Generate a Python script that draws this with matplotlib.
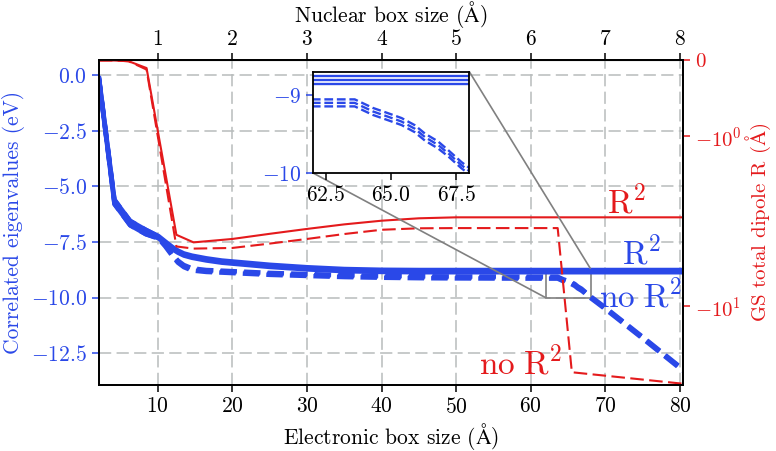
import matplotlib
matplotlib.use("Agg")
import matplotlib.pyplot as plt
from matplotlib.ticker import NullLocator
from mpl_toolkits.axes_grid1.inset_locator import mark_inset

plt.rcParams['font.family'] = ['cmr10', 'DejaVu Serif']
plt.rcParams['mathtext.fontset'] = 'cm'
plt.rcParams['axes.formatter.use_mathtext'] = True
plt.rcParams['font.size'] = 15.5

BLUE = '#2a48e8'
RED = '#e41a1c'

# ---------------- data ----------------
x_sol = [2.1, 4.2, 6.3, 8.4, 10.1, 11.0, 12.0, 12.7, 13.5, 14.6, 16.5, 18.6, 25, 30, 35, 40, 45, 50, 60, 70, 80.4]
sol1 = [-0.05, -5.6, -6.55, -6.95, -7.23, -7.47, -7.73, -7.88, -8.01, -8.11, -8.23, -8.33, -8.52, -8.63, -8.71, -8.745, -8.755, -8.755, -8.755, -8.755, -8.755]
sol2 = [-0.1, -5.7, -6.65, -7.05, -7.28, -7.52, -7.78, -7.93, -8.06, -8.16, -8.28, -8.38, -8.57, -8.68, -8.76, -8.795, -8.807, -8.807, -8.807, -8.807, -8.807]
sol3 = [-0.15, -5.8, -6.75, -7.15, -7.33, -7.57, -7.83, -7.98, -8.11, -8.21, -8.33, -8.43, -8.62, -8.73, -8.81, -8.845, -8.858, -8.858, -8.858, -8.858, -8.858]

x_dash = [2.1, 4.2, 6.3, 8.4, 10.1, 11.0, 12.0, 12.7, 13.5, 14.6, 16.5, 18.6, 25, 30, 35, 40, 45, 50, 60, 63.6,
          64.3, 64.9, 65.4, 65.9, 66.3, 66.8, 67.2, 67.7, 68.5, 70, 75, 80.4]
dash1 = [-0.05, -5.6, -6.55, -6.95, -7.25, -7.6, -8.05, -8.33, -8.53, -8.68, -8.755, -8.785, -8.885, -8.935, -8.985, -9.015, -9.035, -9.045, -9.055, -9.055,
         -9.165, -9.235, -9.295, -9.385, -9.495, -9.595, -9.71, -9.86, -10.06, -10.44, -11.76, -13.21]
dash2 = [-0.1, -5.7, -6.65, -7.05, -7.3, -7.65, -8.1, -8.38, -8.58, -8.73, -8.8, -8.83, -8.93, -8.98, -9.03, -9.06, -9.08, -9.09, -9.1, -9.1,
         -9.21, -9.28, -9.34, -9.43, -9.54, -9.64, -9.75, -9.9, -10.1, -10.48, -11.8, -13.25]
dash3 = [-0.15, -5.8, -6.75, -7.15, -7.35, -7.7, -8.15, -8.43, -8.63, -8.78, -8.845, -8.875, -8.975, -9.025, -9.075, -9.105, -9.125, -9.135, -9.145, -9.145,
         -9.255, -9.325, -9.385, -9.475, -9.585, -9.685, -9.79, -9.94, -10.14, -10.52, -11.84, -13.29]

x_red = [2.1, 4.2, 6.1, 8.5, 12.5, 14.8, 20, 25, 30, 35, 40, 45, 50, 63.6, 65.5, 80.4]
dip_R2 = [0, 0, -0.01, -0.1, -3.8, -4.21, -4.02, -3.75, -3.51, -3.3, -3.14, -3.04, -3.0, -3.0, -3.0, -3.0]
dip_noR2 = [0, 0, -0.01, -0.12, -4.45, -4.58, -4.54, -4.28, -4.02, -3.76, -3.55, -3.48, -3.47, -3.47, -24.4, -28.5]

top_ticks = [1, 2, 3, 4, 5, 6, 7, 8]
bottom_ticks = [10, 20, 30, 40, 50, 60, 70, 80]
left_ticks = [0.0, -2.5, -5.0, -7.5, -10.0, -12.5]
right_ticks = [0, -1, -10]
inset_xticks = [62.5, 65.0, 67.5]
inset_yticks = [-9, -10]

AA = r'$\mathrm{Å}$'

# ---------------- figure ----------------
fig = plt.figure(figsize=(7.76, 4.51), dpi=100)
ax = fig.add_axes([0.1276, 0.1463, 0.7526, 0.7196])

for ys in (sol1, sol2, sol3):
    ax.plot(x_sol, ys, color=BLUE, lw=3.2, solid_capstyle='butt')
for ys in (dash1, dash2, dash3):
    ax.plot(x_dash, ys, color=BLUE, lw=3.2, ls='--', dash_capstyle='butt')

ax.set_xlim(2.13, 80.4)
ax.set_ylim(-13.92, 0.65)
ax.set_yticks(left_ticks)
ax.set_xticks(bottom_ticks)
ax.grid(True, color='#b8bcbc', lw=1.1, ls=(0, (8, 3.5)))
ax.set_axisbelow(True)
ax.tick_params(axis='y', colors=BLUE, direction='out', length=5, width=1.1)
ax.tick_params(axis='x', direction='out', length=5, width=1.1)
ax.set_ylabel('Correlated eigenvalues (eV)', color=BLUE, labelpad=4)
ax.set_xlabel('Electronic box size (' + AA + ')', labelpad=3)
for s in ax.spines.values():
    s.set_linewidth(1.3)

secax = ax.secondary_xaxis('top', functions=(lambda x: x / 10.0, lambda x: x * 10.0))
secax.set_xticks(top_ticks)
secax.tick_params(direction='out', length=5, width=1.1)
secax.set_xlabel('Nuclear box size (' + AA + ')', labelpad=5)

ax2 = ax.twinx()
ax2.set_yscale('symlog', linthresh=1, linscale=0.4)
ax2.plot(x_red, dip_R2, color=RED, lw=1.5)
ax2.plot(x_red, dip_noR2, color=RED, lw=1.5, ls=(0, (6.5, 2.6)))
ax2.set_ylim(-29, 0)
ax2.set_yticks(right_ticks)
ax2.yaxis.set_minor_locator(NullLocator())
ax2.tick_params(axis='y', colors=RED, direction='out', length=5, width=1.1, labelsize=15)
ax2.set_ylabel('GS total dipole R (' + AA + ')', color=RED, labelpad=2, fontsize=15)
for s in ax2.spines.values():
    s.set_linewidth(1.3)

# annotations
ax.text(70.2, -6.21, r'$\mathrm{R^2}$', color=RED, fontsize=24, ha='left', va='baseline')
ax.text(72.2, -8.50, r'$\mathrm{R^2}$', color=BLUE, fontsize=24, ha='left', va='baseline')
ax.text(69.2, -10.43, r'$\mathrm{no\ R^2}$', color=BLUE, fontsize=24, ha='left', va='baseline', clip_on=False)
ax.text(53.1, -13.4, r'$\mathrm{no\ R^2}$', color=RED, fontsize=24, ha='left', va='baseline')

# inset
axins = fig.add_axes([0.4034, 0.6164, 0.2014, 0.2246])
axins.set_facecolor('white')
for ys in (sol1, sol2, sol3):
    axins.plot(x_sol, ys, color=BLUE, lw=1.7)
for ys in (dash1, dash2, dash3):
    axins.plot(x_dash, ys, color=BLUE, lw=1.7, ls='--')
axins.set_xlim(62, 68)
axins.set_ylim(-10, -8.7)
axins.set_xticks(inset_xticks)
axins.set_yticks(inset_yticks)
axins.tick_params(axis='y', colors=BLUE, direction='out', length=5, width=1.1)
axins.tick_params(axis='x', direction='out', length=5, width=1.1)
for s in axins.spines.values():
    s.set_linewidth(1.3)

mark_inset(ax, axins, loc1=1, loc2=3, fc='none', ec='0.5', lw=1.2)

fig.savefig('out.png', dpi=100)
